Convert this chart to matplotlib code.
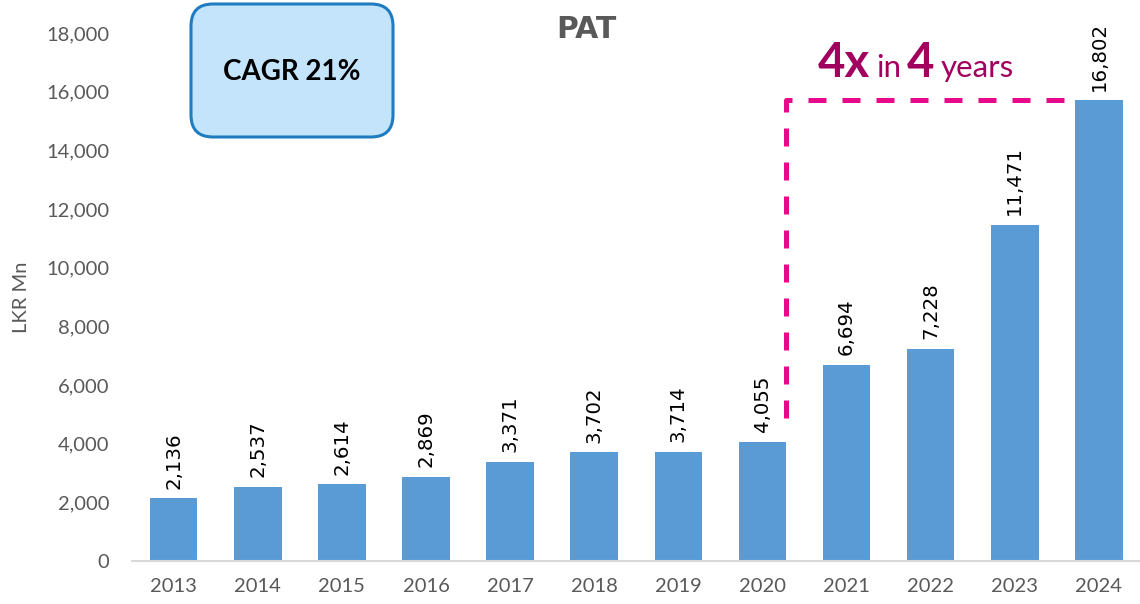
import matplotlib
matplotlib.use("Agg")
import matplotlib.pyplot as plt
from matplotlib.patches import FancyBboxPatch
from matplotlib.ticker import FuncFormatter

years = ["2013", "2014", "2015", "2016", "2017", "2018",
         "2019", "2020", "2021", "2022", "2023", "2024"]
# bar heights as drawn (the 2024 bar is drawn shorter than its label says)
pat = [2136, 2537, 2614, 2869, 3371, 3702, 3714, 4055, 6694, 7228, 11471, 15700]
pat_labels = ["2,136", "2,537", "2,614", "2,869", "3,371", "3,702",
              "3,714", "4,055", "6,694", "7,228", "11,471", "16,802"]
y_ticks = [0, 2000, 4000, 6000, 8000, 10000, 12000, 14000, 16000, 18000]

# dashed "4x in 4 years" bracket, in category / value units
bracket_x = [7.28, 7.28, 10.62]
bracket_y = [4875, 15700, 15700]

BAR = "#5B9BD5"
GREY = "#595959"
PINK = "#E8098A"
PLUM = "#A2005F"

fig = plt.figure(figsize=(11.4, 6.04), dpi=100)
ax = fig.add_axes([0.1154, 0.0712, 0.8855, 0.8742])

x = list(range(len(years)))
ax.bar(x, pat, width=0.565, color=BAR, zorder=2)
for xi, v, lab in zip(x, pat, pat_labels):
    ax.annotate(lab, (xi, v), xytext=(0, 7), textcoords="offset points",
                rotation=90, ha="center", va="bottom",
                fontsize=14.2, family="DejaVu Sans", color="black")

ax.set_xlim(-0.5, len(years) - 0.5)
ax.set_ylim(0, 18000)
ax.set_xticks(x)
ax.set_xticklabels(years)
ax.set_yticks(y_ticks)
ax.yaxis.set_major_formatter(FuncFormatter(lambda v, _: f"{int(v):,}"))
ax.tick_params(axis="both", length=0, labelsize=14.5, labelcolor=GREY)
ax.tick_params(axis="y", pad=16)
ax.tick_params(axis="x", pad=12)
for lab in ax.get_xticklabels() + ax.get_yticklabels():
    lab.set_family("Lato")
for side in ("top", "right", "left"):
    ax.spines[side].set_visible(False)
ax.spines["bottom"].set_color("#D9D9D9")
ax.spines["bottom"].set_linewidth(1.5)

fig.text(0.019, 0.508, "LKR Mn", rotation=90, ha="center", va="center",
         fontsize=14.5, family="Lato", color=GREY)

ax.plot(bracket_x, bracket_y, color=PINK, lw=3.6,
        ls=(0, (3.6, 3.2)), solid_capstyle="butt", dash_capstyle="butt",
        zorder=3, clip_on=False)

# title
fig.text(0.514, 0.951, "PAT", ha="center", va="center",
         fontsize=21.5, fontweight="bold", family="DejaVu Sans", color=GREY)

# CAGR box (inches, so the corners stay round)
box = FancyBboxPatch((1.91, 4.67), 2.02, 1.33,
                     boxstyle="round,pad=0,rounding_size=0.22",
                     transform=fig.dpi_scale_trans, facecolor="#C4E4FB",
                     edgecolor="#1F7CC1", linewidth=2.2)
fig.add_artist(box)
fig.text(0.256, 0.881, "CAGR 21%", ha="center", va="center",
         fontsize=20, fontweight="bold", family="Lato", color="black")

# "4x in 4 years" - drawn piece by piece, left to right
fig.canvas.draw()
renderer = fig.canvas.get_renderer()
parts = [("4x", 34, "bold", 6), ("in", 22.5, "normal", 6),
         ("4", 34, "bold", 6), ("years", 22.5, "normal", 0)]
cur = 818
base_y = 604 - 77
for txt, size, weight, gap in parts:
    t = fig.text(cur / 1140, base_y / 604, txt, ha="left", va="baseline",
                 fontsize=size, fontweight=weight, family="Lato", color=PLUM)
    bb = t.get_window_extent(renderer)
    cur = bb.x1 + gap

fig.savefig("out.png", dpi=100)
